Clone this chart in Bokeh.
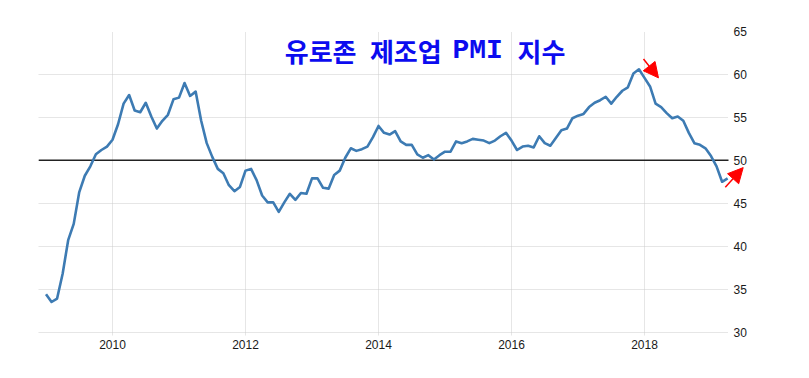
from bokeh.plotting import figure
from bokeh.models import FixedTicker, Arrow, NormalHead, Range1d
from bokeh.core.properties import value
from bokeh.embed import file_html
from bokeh.resources import INLINE

# Eurozone manufacturing PMI, monthly from 2009-01 to 2019-04
start_year = 2009
pmi = [
    34.4, 33.5, 33.9, 36.8, 40.7, 42.6, 46.3, 48.2, 49.3, 50.7, 51.2, 51.6,   # 2009
    52.4, 54.2, 56.6, 57.6, 55.8, 55.6, 56.7, 55.1, 53.7, 54.6, 55.3, 57.1,   # 2010
    57.3, 59.0, 57.5, 58.0, 54.6, 52.0, 50.4, 49.0, 48.5, 47.1, 46.4, 46.9,   # 2011
    48.8, 49.0, 47.7, 45.9, 45.1, 45.1, 44.0, 45.1, 46.1, 45.4, 46.2, 46.1,   # 2012
    47.9, 47.9, 46.8, 46.7, 48.3, 48.8, 50.3, 51.4, 51.1, 51.3, 51.6, 52.7,   # 2013
    54.0, 53.2, 53.0, 53.4, 52.2, 51.8, 51.8, 50.7, 50.3, 50.6, 50.1, 50.6,   # 2014
    51.0, 51.0, 52.2, 52.0, 52.2, 52.5, 52.4, 52.3, 52.0, 52.3, 52.8, 53.2,   # 2015
    52.3, 51.2, 51.6, 51.7, 51.5, 52.8, 52.0, 51.7, 52.6, 53.5, 53.7, 54.9,   # 2016
    55.2, 55.4, 56.2, 56.7, 57.0, 57.4, 56.6, 57.4, 58.1, 58.5, 60.1, 60.6,   # 2017
    59.6, 58.6, 56.6, 56.2, 55.5, 54.9, 55.1, 54.6, 53.2, 52.0, 51.8, 51.4,   # 2018
    50.5, 49.3, 47.5, 47.9,                                                   # 2019
]
months = [start_year + i / 12 for i in range(len(pmi))]
x_ticks = [2010, 2012, 2014, 2016, 2018]
y_ticks = [30, 35, 40, 45, 50, 55, 60, 65]
threshold = 50
title_parts = ["유로존", "제조업", "PMI", "지수"]

# visible chart area (grid extent) and the wider frame that also holds the arrow
X_LO, X_HI = 2008.887, 2019.263
FRAME_HI = 2019.624

p = figure(width=809, height=378, output_backend="svg", toolbar_location=None,
           x_range=Range1d(X_LO, FRAME_HI), y_range=Range1d(29.6, 65.0),
           min_border_left=38, min_border_right=57, min_border_top=31,
           min_border_bottom=43, y_axis_location="right",
           background_fill_color="white", border_fill_color="white",
           outline_line_color=None)

# grid
p.xgrid.ticker = FixedTicker(ticks=x_ticks)
p.ygrid.ticker = FixedTicker(ticks=y_ticks)
for g in (p.xgrid[0], p.ygrid[0]):
    g.grid_line_color = "#cccccc"
    g.grid_line_dash = "1 1"
    g.grid_line_width = 1
p.ygrid[0].cross_bounds = (X_LO, X_HI)

# threshold line at 50
p.segment(x0=[X_LO], x1=[X_HI], y0=[threshold], y1=[threshold],
          line_color="#222222", line_width=1.4)

p.line(months, pmi, line_color="#3d7bb3", line_width=2.6, line_join="round")

# axes
for ax in (p.xaxis[0], p.yaxis[0]):
    ax.axis_line_color = None
    ax.major_tick_line_color = None
    ax.minor_tick_line_color = None
    ax.major_tick_in = 0
    ax.major_tick_out = 0
    ax.minor_tick_in = 0
    ax.minor_tick_out = 0
    ax.major_label_text_color = "#1a1a1a"
    ax.major_label_text_font = "'Liberation Sans', sans-serif"
    ax.major_label_text_font_size = "12px"

p.xaxis[0].ticker = FixedTicker(ticks=x_ticks)
p.xaxis[0].major_label_standoff = 4
p.yaxis[0].ticker = FixedTicker(ticks=y_ticks)
p.yaxis[0].major_label_standoff = -19

# title inside plot, in four pieces
title_x = [2013.13, 2014.41, 2015.49, 2016.45]
title_fonts = ["Noto Sans CJK KR", "Noto Sans CJK KR", "Liberation Mono", "Noto Sans CJK KR"]
title_sizes = ["26px", "26px", "28px", "26px"]
for txt, tx, fnt, fs in zip(title_parts, title_x, title_fonts, title_sizes):
    p.text(x=[tx], y=[62.8], text=[txt], text_color="#0b0bef",
           text_font=value(fnt), text_font_style="bold",
           text_font_size=fs, text_align="center", text_baseline="middle")

# red arrows
p.add_layout(Arrow(x_start=2017.985, y_start=61.8, x_end=2018.21, y_end=59.6,
                   line_color="red", line_width=1.5,
                   end=NormalHead(size=15, fill_color="red", line_color="red")))
p.add_layout(Arrow(x_start=2019.215, y_start=46.85, x_end=2019.484, y_end=49.15,
                   line_color="red", line_width=1.5,
                   end=NormalHead(size=15, fill_color="red", line_color="red")))

open("out.html", "w").write(file_html(p, INLINE))
